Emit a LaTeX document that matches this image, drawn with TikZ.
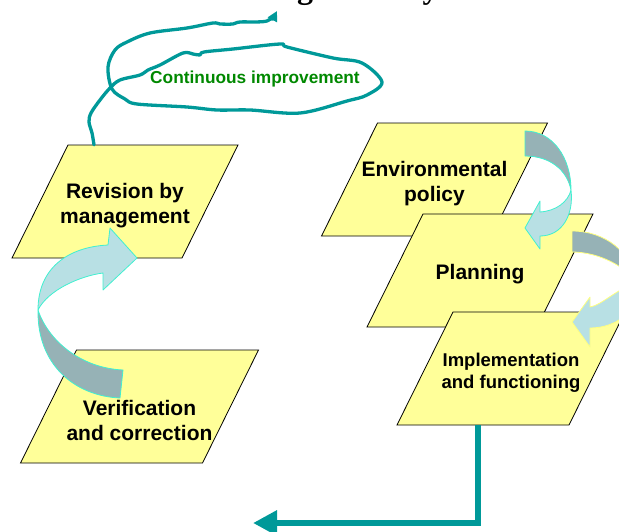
\documentclass[tikz,border=0pt]{standalone}
\usepackage{fontspec}
\setmainfont{Liberation Sans}
\newfontfamily\headfont{Liberation Serif}
\usetikzlibrary{arrows.meta}

\definecolor{boxyellow}{RGB}{255,255,153}
\definecolor{loopteal}{RGB}{0,153,153}
\definecolor{notegreen}{RGB}{0,136,0}
\definecolor{bandlight}{RGB}{184,224,228}
\definecolor{banddark}{RGB}{150,178,182}
\definecolor{bandedge}{RGB}{64,240,208}
\definecolor{bandrim}{RGB}{255,255,128}

\tikzset{
	stage/.style = {draw=black, line width=0.8pt, fill=boxyellow, line join=miter},
	stagetext/.style = {minimum height=113pt, inner sep=0pt, align=center, yshift=-4pt,
		font=\fontsize{21}{25}\selectfont\bfseries},
	bandlit/.style = {fill=bandlight, draw=bandedge, line width=0.8pt, line join=round},
	bandshade/.style = {fill=banddark, draw=bandedge, line width=0.8pt, line join=round},
	scribble/.style = {draw=loopteal, line width=3.3pt, line cap=round, line join=round},
	feedback/.style = {draw=loopteal, line width=6.5pt}
}

% slanted yellow box with its text node: [text options]{name}{centre}{top width}{text}
\newcommand{\stagebox}[5][]{%
	\filldraw[stage] (#3) ++(-#4/2+28,-56.5) -- ++(#4,0) -- ++(-56,113) -- ++(-#4,0) -- cycle;
	\node[stagetext, #1] (#2) at (#3) {#5};}

\begin{document}
\begin{tikzpicture}[x=1pt, y=-1pt]
	\useasboundingbox (0,0) rectangle (619,531);
	% heading sits above the page, only its descenders show
	\node[anchor=base west, inner sep=0pt, font=\headfont\bfseries\fontsize{32}{36}\selectfont]
		(heading) at (217,-2) {Management System};

	% right column, stacked from the back
	\stagebox{policy}{434.5,179.5}{170}{Environmental\\policy}
	\stagebox{planning}{480,270.5}{170}{Planning}
	\stagebox[font=\fontsize{18.5}{22}\selectfont\bfseries]{running}{511,368.5}{172}{Implementation\\and functioning}

	% turning bands between the stages
	\filldraw[bandshade] (525,131) .. controls (553,131) and (571,158) .. (571,190)
		.. controls (567,170) and (550,156) .. (525,156) -- cycle;
	\filldraw[bandlit] (571,190) .. controls (574,215) and (562,236) .. (540,236)
		-- (540,249) -- (525,228) -- (540,201) -- (540,212)
		.. controls (556,211) and (568,202) .. (571,190) -- cycle;
	\filldraw[bandshade, draw=bandrim] (572,231) .. controls (605,231) and (632,252) .. (636,283)
		.. controls (628,268) and (600,252) .. (572,252) -- cycle;
	\filldraw[bandlit, draw=bandrim] (636,283) .. controls (640,312) and (615,328) .. (590,328)
		-- (590,347) -- (572,322) -- (590,297) -- (590,307)
		.. controls (602,305) and (615,290) .. (636,283) -- cycle;

	% left column
	\stagebox{revision}{125,201.5}{170}{Revision by\\management}
	\stagebox[yshift=-9.5pt]{checking}{139.5,406.5}{182}{Verification\\and correction}

	\filldraw[bandshade] (123,370) -- (120,398) .. controls (75,396) and (37,365) .. (38,310)
		.. controls (48,340) and (80,368) .. (123,370) -- cycle;
	\filldraw[bandlit] (38,310) .. controls (38,268) and (68,247) .. (108,245)
		-- (110,228) -- (137,258) -- (103,290) -- (103,273)
		.. controls (80,276) and (48,290) .. (38,310) -- cycle;

	% hand drawn loop rising from the revision
	\draw[scribble, -{Triangle[length=10pt, width=10pt]}] plot[smooth, tension=0.55] coordinates {
		([shift={(-31,-4)}]revision.north) (92,133) (89,122) (91,113) (100,100) (110,88)
		(120,80) (140,75) (148,70) (160,65) (183,53) (193,54) (200,55) (204,52)
		(233,49) (280,44) (287,47) (333,58) (362,63) (382,82) (367,95) (347,101)
		(300,113) (250,110) (217,110) (187,107) (137,104) (125,99) (112,89)
		(108,67) (115,50) (127,42) (150,33) (187,28) (213,23) (220,24) (233,24)
		(240,22) (267,21) (277,11)};
	\node[text=notegreen, font=\fontsize{17.3}{20}\selectfont\bfseries] (note) at (255,79) {Continuous improvement};

	% feedback back to the left
	\coordinate (loopback) at (253,523);
	\draw[feedback, -{Triangle[length=24pt, width=24pt]}] ([shift={(-33,-4)}]running.south) |- (loopback);
\end{tikzpicture}
\end{document}
